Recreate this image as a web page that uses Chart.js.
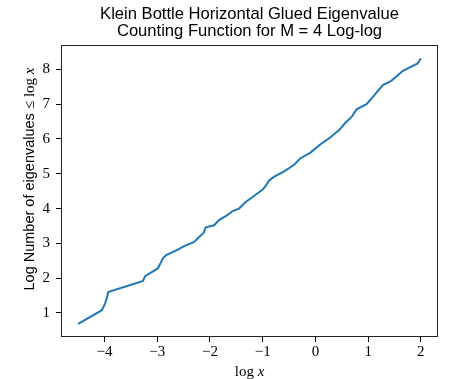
<!DOCTYPE html>
<html><head><meta charset="utf-8">
<script src="https://cdn.jsdelivr.net/npm/chart.js@4/dist/chart.umd.min.js"></script>
<style>html,body{margin:0;padding:0;background:#fff}#wrap{width:471px;height:379px;position:relative}</style>
</head><body><div id="wrap"><canvas id="c" width="471" height="379"></canvas></div>
<script>
const titleLines = ['Klein Bottle Horizontal Glued Eigenvalue', 'Counting Function for M = 4 Log-log'];
const yLabelParts = ['Log Number of eigenvalues ', '\u2264 log ', 'x'];
const xLabelParts = ['log ', 'x'];
const logX = [-4.50,-4.05,-3.99,-3.95,-3.93,-3.27,-3.23,-2.99,-2.93,-2.89,-2.83,-2.61,-2.49,-2.30,-2.20,-2.12,-2.08,-1.92,-1.83,-1.67,-1.57,-1.45,-1.32,-1.14,-1.00,-0.95,-0.88,-0.79,-0.60,-0.41,-0.29,-0.10,0.09,0.28,0.46,0.56,0.69,0.78,0.97,1.09,1.28,1.44,1.66,1.94,2.00];
const logN = [0.69,1.08,1.27,1.45,1.60,1.92,2.06,2.28,2.45,2.58,2.66,2.82,2.92,3.04,3.19,3.30,3.46,3.52,3.67,3.81,3.93,4.00,4.19,4.39,4.55,4.64,4.80,4.91,5.06,5.25,5.44,5.60,5.84,6.04,6.27,6.45,6.64,6.85,7.00,7.21,7.55,7.67,7.96,8.17,8.32];
const xTicks = [-4,-3,-2,-1,0,1,2];
const yTicks = [1,2,3,4,5,6,7,8];
const xRange = [-4.825, 2.325];
const yRange = [0.31, 8.70];

const fmt = v => (v < 0 ? '\u2212' + Math.abs(v) : String(v));

const decor = {
  id: 'decor',
  afterDraw(chart) {
    const ctx = chart.ctx, a = chart.chartArea;
    ctx.save();
    ctx.strokeStyle = '#222';
    ctx.lineWidth = 1;
    ctx.strokeRect(Math.round(a.left) + 0.5, Math.round(a.top) + 0.5, Math.round(a.right - a.left) - 1, Math.round(a.bottom - a.top) - 1);
    const cx = (a.left + a.right) / 2;
    ctx.fillStyle = '#000';
    ctx.textAlign = 'center';
    ctx.textBaseline = 'alphabetic';
    ctx.font = '16.6px "Liberation Sans", sans-serif';
    ctx.fillText(titleLines[0], cx, 19);
    ctx.fillText(titleLines[1], cx, 36);
    // x label
    ctx.textAlign = 'left';
    const f1 = '15px "Liberation Serif", serif', f2 = 'italic 15px "Liberation Serif", serif';
    ctx.font = f1; const w1 = ctx.measureText(xLabelParts[0]).width;
    ctx.font = f2; const w2 = ctx.measureText(xLabelParts[1]).width;
    let sx = cx - (w1 + w2) / 2;
    ctx.font = f1; ctx.fillText(xLabelParts[0], sx, 376);
    ctx.font = f2; ctx.fillText(xLabelParts[1], sx + w1, 376);
    // y label
    ctx.translate(34, 179);
    ctx.rotate(-Math.PI / 2);
    const fonts = ['14.5px "Liberation Sans", sans-serif', '15px "Liberation Serif", serif', 'italic 15px "Liberation Serif", serif'];
    const ws = yLabelParts.map((t, i) => { ctx.font = fonts[i]; return ctx.measureText(t).width; });
    let px = -ws.reduce((s, v) => s + v, 0) / 2;
    yLabelParts.forEach((t, i) => { ctx.font = fonts[i]; ctx.fillText(t, px, 0); px += ws[i]; });
    ctx.restore();
  }
};

new Chart(document.getElementById('c'), {
  type: 'line',
  data: {
    datasets: [{
      data: logX.map((x, i) => ({ x, y: logN[i] })),
      borderColor: '#1f77b4',
      borderWidth: 2,
      pointRadius: 0,
      fill: false,
      tension: 0
    }]
  },
  options: {
    responsive: false,
    animation: false,
    devicePixelRatio: 1,
    layout: { padding: { top: 45, right: 33, left: 0, bottom: 0 } },
    plugins: { legend: { display: false }, tooltip: { enabled: false }, title: { display: false } },
    scales: {
      x: {
        type: 'linear', min: xRange[0], max: xRange[1],
        afterBuildTicks: s => { s.ticks = xTicks.map(v => ({ value: v })); },
        afterFit: s => { s.height = 42; },
        grid: { drawOnChartArea: false, drawTicks: true, tickLength: 5, color: '#000' },
        border: { display: false },
        ticks: { callback: fmt, color: '#000', padding: 1, maxRotation: 0, autoSkip: false,
                 font: { family: '"Liberation Serif", serif', size: 15 } }
      },
      y: {
        type: 'linear', min: yRange[0], max: yRange[1],
        afterBuildTicks: s => { s.ticks = yTicks.map(v => ({ value: v })); },
        afterFit: s => { s.width = 61; },
        grid: { drawOnChartArea: false, drawTicks: true, tickLength: 5, color: '#000' },
        border: { display: false },
        ticks: { callback: fmt, color: '#000', padding: 6, autoSkip: false,
                 font: { family: '"Liberation Serif", serif', size: 15 } }
      }
    }
  },
  plugins: [decor]
});
</script></body></html>
